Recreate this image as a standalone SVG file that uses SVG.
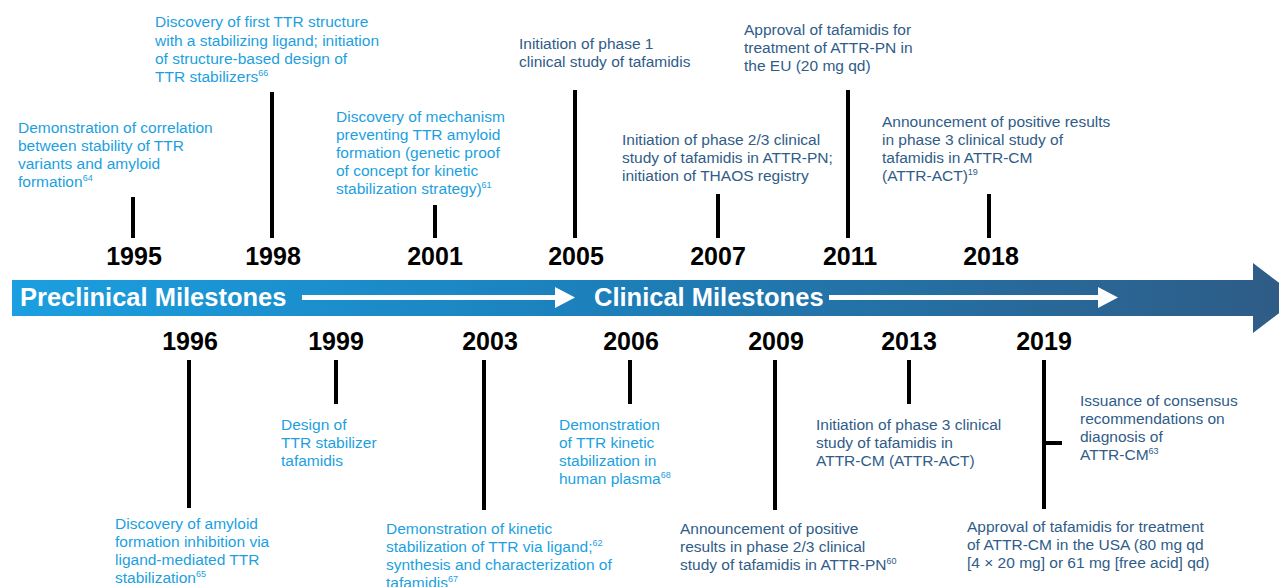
<svg xmlns="http://www.w3.org/2000/svg" width="1279" height="587" viewBox="0 0 1279 587">
<style>
text{font-family:"Liberation Sans",Arial,sans-serif}
.pre{fill:#1c9fdf;font-size:15.5px}
.cli{fill:#2f5c88;font-size:15.5px}
.yr{fill:#000;font-size:25px;font-weight:bold;text-anchor:middle}
.ban{fill:#fff;font-size:25.5px;font-weight:bold}
.tick{stroke:#000;stroke-width:4;fill:none}
.sup{font-size:9px}
</style>
<defs>
<linearGradient id="bg" x1="12" y1="0" x2="1300" y2="0" gradientUnits="userSpaceOnUse">
<stop offset="0" stop-color="#1b9fe0"/>
<stop offset="0.45" stop-color="#1c80bb"/>
<stop offset="1" stop-color="#2f5b85"/>
</linearGradient>
</defs>
<g id="banner">
<polygon points="12,280 1253,280 1253,263 1299,298 1253,333 1253,316 12,316" fill="url(#bg)"/>
<text class="ban" x="20" y="306">Preclinical Milestones</text>
<text class="ban" x="594" y="306">Clinical Milestones</text>
<polygon points="302,295 555,295 555,287 575,297.5 555,308 555,300 302,300" fill="#fff"/>
<polygon points="829,295 1098,295 1098,287 1118,297.5 1098,308 1098,300 829,300" fill="#fff"/>
</g>
<g id="connectors">
<line class="tick" x1="133" y1="197" x2="133" y2="238"/>
<line class="tick" x1="272" y1="92" x2="272" y2="238"/>
<line class="tick" x1="435" y1="205" x2="435" y2="238"/>
<line class="tick" x1="575" y1="90" x2="575" y2="238"/>
<line class="tick" x1="718" y1="194" x2="718" y2="238"/>
<line class="tick" x1="848" y1="90" x2="848" y2="238"/>
<line class="tick" x1="989" y1="194" x2="989" y2="238"/>
<line class="tick" x1="189" y1="360" x2="189" y2="508"/>
<line class="tick" x1="336" y1="360" x2="336" y2="404"/>
<line class="tick" x1="484" y1="360" x2="484" y2="510"/>
<line class="tick" x1="630" y1="360" x2="630" y2="404"/>
<line class="tick" x1="775" y1="360" x2="775" y2="510"/>
<line class="tick" x1="909" y1="360" x2="909" y2="404"/>
<line class="tick" x1="1044" y1="360" x2="1044" y2="509"/>
<line class="tick" x1="1044" y1="443" x2="1062" y2="443"/>
</g>
<g id="years">
<text class="yr" x="134" y="265">1995</text>
<text class="yr" x="273" y="265">1998</text>
<text class="yr" x="435" y="265">2001</text>
<text class="yr" x="576" y="265">2005</text>
<text class="yr" x="718" y="265">2007</text>
<text class="yr" x="850" y="265">2011</text>
<text class="yr" x="991" y="265">2018</text>
<text class="yr" x="190" y="350">1996</text>
<text class="yr" x="336" y="350">1999</text>
<text class="yr" x="490" y="350">2003</text>
<text class="yr" x="631" y="350">2006</text>
<text class="yr" x="776" y="350">2009</text>
<text class="yr" x="909" y="350">2013</text>
<text class="yr" x="1044" y="350">2019</text>
</g>
<g id="m1995"><text class="pre"><tspan x="18" y="133">Demonstration of correlation</tspan><tspan x="18" y="151">between stability of TTR</tspan><tspan x="18" y="169">variants and amyloid</tspan><tspan x="18" y="187">formation<tspan class="sup" dy="-6">64</tspan></tspan></text></g>
<g id="m1998"><text class="pre"><tspan x="155" y="27">Discovery of first TTR structure</tspan><tspan x="155" y="45.5">with a stabilizing ligand; initiation</tspan><tspan x="155" y="64">of structure-based design of</tspan><tspan x="155" y="82">TTR stabilizers<tspan class="sup" dy="-6">66</tspan></tspan></text></g>
<g id="m2001"><text class="pre"><tspan x="336" y="122">Discovery of mechanism</tspan><tspan x="336" y="140">preventing TTR amyloid</tspan><tspan x="336" y="158">formation (genetic proof</tspan><tspan x="336" y="176">of concept for kinetic</tspan><tspan x="336" y="194">stabilization strategy)<tspan class="sup" dy="-6">61</tspan></tspan></text></g>
<g id="m2005"><text class="cli"><tspan x="519" y="49">Initiation of phase 1</tspan><tspan x="519" y="67">clinical study of tafamidis</tspan></text></g>
<g id="m2007"><text class="cli"><tspan x="622" y="145">Initiation of phase 2/3 clinical</tspan><tspan x="622" y="163">study of tafamidis in ATTR-PN;</tspan><tspan x="622" y="181">initiation of THAOS registry</tspan></text></g>
<g id="m2011"><text class="cli"><tspan x="744" y="35">Approval of tafamidis for</tspan><tspan x="744" y="53">treatment of ATTR-PN in</tspan><tspan x="744" y="71">the EU (20 mg qd)</tspan></text></g>
<g id="m2018"><text class="cli"><tspan x="882" y="127">Announcement of positive results</tspan><tspan x="882" y="145">in phase 3 clinical study of</tspan><tspan x="882" y="163">tafamidis in ATTR-CM</tspan><tspan x="882" y="181">(ATTR-ACT)<tspan class="sup" dy="-6">19</tspan></tspan></text></g>
<g id="m1996"><text class="pre"><tspan x="115" y="529">Discovery of amyloid</tspan><tspan x="115" y="547">formation inhibition via</tspan><tspan x="115" y="565">ligand-mediated TTR</tspan><tspan x="115" y="583">stabilization<tspan class="sup" dy="-6">65</tspan></tspan></text></g>
<g id="m1999"><text class="pre"><tspan x="281" y="430">Design of</tspan><tspan x="281" y="448">TTR stabilizer</tspan><tspan x="281" y="466">tafamidis</tspan></text></g>
<g id="m2003"><text class="pre"><tspan x="386" y="534">Demonstration of kinetic</tspan><tspan x="386" y="552">stabilization of TTR via ligand;<tspan class="sup" dy="-6">62</tspan></tspan><tspan x="386" y="570">synthesis and characterization of</tspan><tspan x="386" y="588">tafamidis<tspan class="sup" dy="-6">67</tspan></tspan></text></g>
<g id="m2006"><text class="pre"><tspan x="559" y="430">Demonstration</tspan><tspan x="559" y="448">of TTR kinetic</tspan><tspan x="559" y="466">stabilization in</tspan><tspan x="559" y="484">human plasma<tspan class="sup" dy="-6">68</tspan></tspan></text></g>
<g id="m2009"><text class="cli"><tspan x="680" y="534">Announcement of positive</tspan><tspan x="680" y="552">results in phase 2/3 clinical</tspan><tspan x="680" y="570">study of tafamidis in ATTR-PN<tspan class="sup" dy="-6">60</tspan></tspan></text></g>
<g id="m2013"><text class="cli"><tspan x="816" y="430">Initiation of phase 3 clinical</tspan><tspan x="816" y="448">study of tafamidis in</tspan><tspan x="816" y="466">ATTR-CM (ATTR-ACT)</tspan></text></g>
<g id="m2019a"><text class="cli"><tspan x="1080" y="406">Issuance of consensus</tspan><tspan x="1080" y="424">recommendations on</tspan><tspan x="1080" y="442">diagnosis of</tspan><tspan x="1080" y="460">ATTR-CM<tspan class="sup" dy="-6">63</tspan></tspan></text></g>
<g id="m2019b"><text class="cli"><tspan x="967" y="532">Approval of tafamidis for treatment</tspan><tspan x="967" y="550">of ATTR-CM in the USA (80 mg qd</tspan><tspan x="967" y="568">[4 × 20 mg] or 61 mg [free acid] qd)</tspan></text></g>
</svg>
